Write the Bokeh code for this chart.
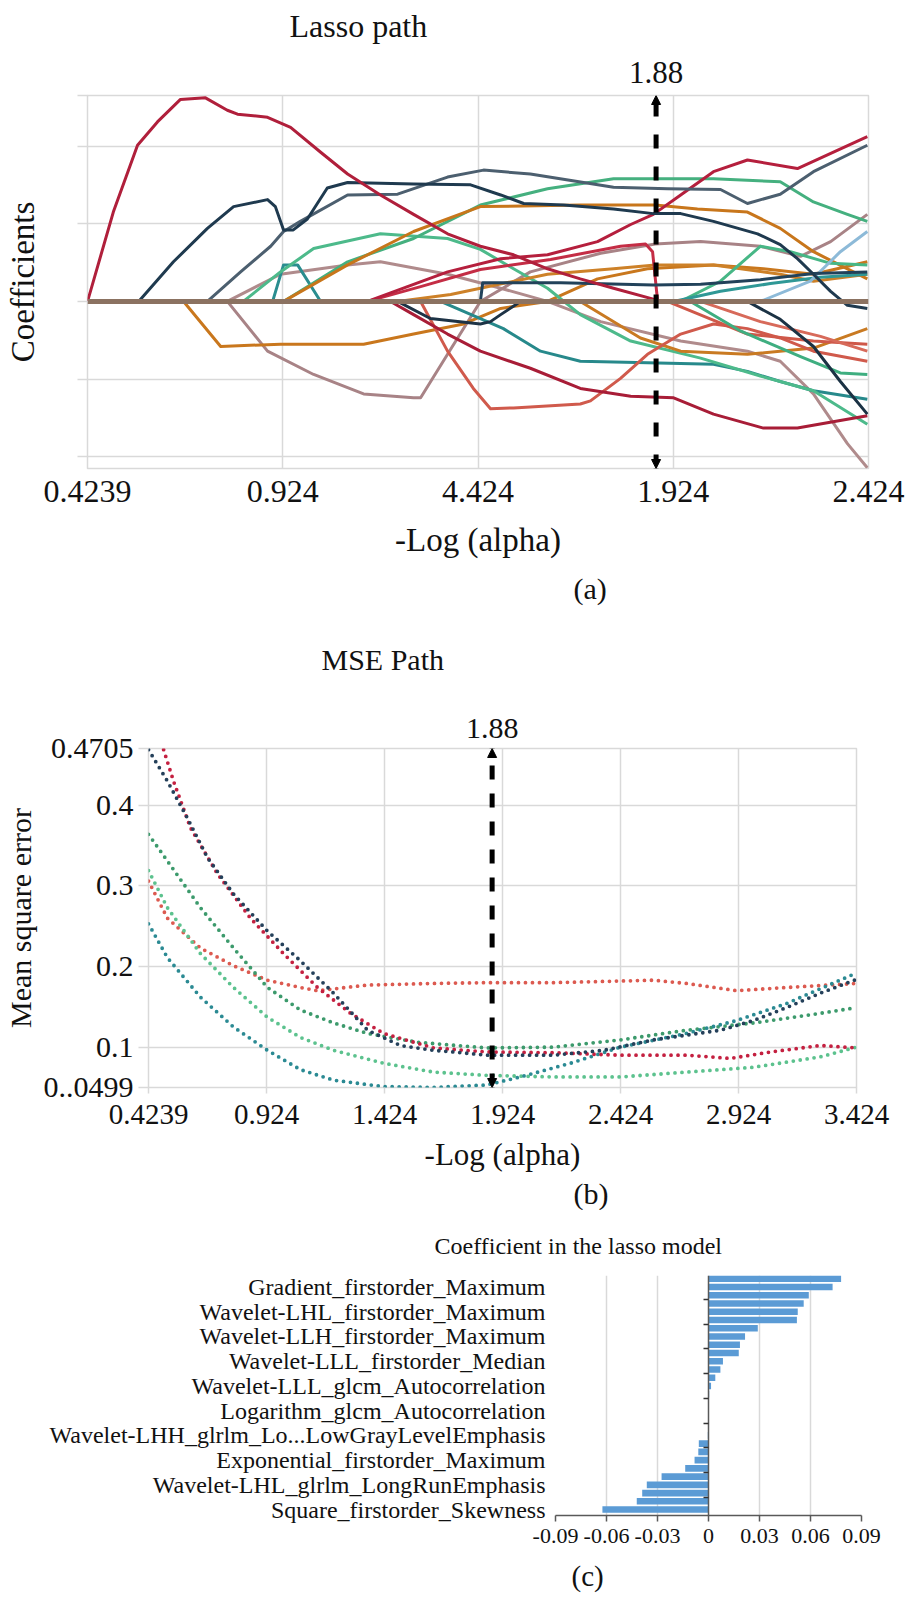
from bokeh.plotting import figure
from bokeh.layouts import column
from bokeh.models import Range1d, FixedTicker, LinearAxis, Arrow, NormalHead, Title
from bokeh.embed import file_html
from bokeh.resources import INLINE

# ======================= DATA =======================
# ---- (a) Lasso path ----
lasso_ticks = [0.4239, 0.924, 1.424, 1.924, 2.424]
lasso_tick_labels = ["0.4239", "0.924", "4.424", "1.924", "2.424"]
lasso_y_ticks = [-0.2, -0.1, 0.0, 0.1, 0.2, 0.265]
alpha_best = 1.88

crimson1_x = [0.424, 0.490, 0.552, 0.603, 0.662, 0.726, 0.782, 0.808, 0.885, 0.944, 1.021, 1.090, 1.174, 1.259, 1.346, 1.430, 1.515, 1.602, 1.686, 1.771, 1.873, 1.891]
crimson1_y = [0.0, 0.115, 0.201, 0.231, 0.260, 0.262, 0.246, 0.241, 0.237, 0.224, 0.192, 0.164, 0.137, 0.112, 0.087, 0.071, 0.060, 0.042, 0.029, 0.017, 0.003, 0.0]
navy1_x = [0.555, 0.644, 0.731, 0.798, 0.885, 0.905, 0.926, 0.951, 0.987, 1.038, 1.090, 1.259, 1.405, 1.482, 1.541, 1.643, 1.771, 1.873, 1.943, 2.027, 2.140, 2.198, 2.242, 2.283, 2.327, 2.370, 2.421]
navy1_y = [0.0, 0.051, 0.094, 0.122, 0.131, 0.122, 0.092, 0.092, 0.106, 0.146, 0.153, 0.151, 0.150, 0.137, 0.126, 0.124, 0.119, 0.113, 0.113, 0.103, 0.087, 0.073, 0.055, 0.035, 0.013, -0.005, -0.009]
slate_x = [0.731, 0.816, 0.893, 0.926, 0.969, 1.090, 1.218, 1.346, 1.438, 1.558, 1.771, 1.909, 2.045, 2.114, 2.198, 2.283, 2.421]
slate_y = [0.0, 0.038, 0.071, 0.090, 0.103, 0.137, 0.138, 0.160, 0.169, 0.164, 0.147, 0.145, 0.144, 0.126, 0.138, 0.167, 0.201]
mint1_x = [0.823, 0.918, 1.003, 1.174, 1.346, 1.430, 1.515, 1.602, 1.686, 1.815, 1.994, 2.147, 2.283, 2.421]
mint1_y = [0.0, 0.038, 0.068, 0.087, 0.081, 0.067, 0.042, 0.017, -0.017, -0.051, -0.073, -0.096, -0.115, -0.158]
teal1_x = [0.898, 0.926, 0.962, 1.021]
teal1_y = [0.0, 0.047, 0.047, 0.0]
teal2_x = [1.328, 1.430, 1.489, 1.584, 1.686, 1.858, 2.027, 2.114, 2.198, 2.283, 2.421]
teal2_y = [0.0, -0.022, -0.035, -0.064, -0.077, -0.079, -0.081, -0.090, -0.103, -0.115, -0.126]
green2_x = [0.926, 1.090, 1.259, 1.430, 1.602, 1.771, 2.027, 2.198, 2.283, 2.370, 2.421]
green2_y = [0.0, 0.051, 0.081, 0.124, 0.145, 0.158, 0.158, 0.154, 0.128, 0.112, 0.103]
orange1_x = [0.926, 1.090, 1.259, 1.430, 1.686, 1.878, 1.986, 2.114, 2.198, 2.283, 2.370, 2.421]
orange1_y = [0.0, 0.047, 0.090, 0.122, 0.124, 0.124, 0.119, 0.115, 0.094, 0.064, 0.042, 0.029]
orange2_x = [0.670, 0.765, 0.918, 1.131, 1.259, 1.387, 1.482, 1.602, 1.730, 1.858, 2.027, 2.155, 2.283, 2.421]
orange2_y = [0.0, -0.058, -0.055, -0.055, -0.042, -0.029, -0.009, 0.0, 0.029, 0.042, 0.047, 0.042, 0.035, 0.051]
mauve1_x = [0.782, 0.885, 1.003, 1.131, 1.259, 1.277, 1.346, 1.430, 1.558, 1.738, 1.878, 1.994, 2.147, 2.250, 2.327, 2.421]
mauve1_y = [0.0, -0.064, -0.094, -0.119, -0.124, -0.124, -0.068, 0.0, 0.038, 0.062, 0.074, 0.077, 0.071, 0.058, 0.077, 0.112]
mauve2_x = [0.782, 0.918, 1.090, 1.174, 1.346, 1.482, 1.602, 1.738, 1.943, 2.114, 2.198, 2.283, 2.370, 2.421]
mauve2_y = [0.0, 0.035, 0.047, 0.051, 0.035, 0.017, 0.0, -0.026, -0.051, -0.064, -0.077, -0.119, -0.183, -0.214]
salmon1_x = [1.277, 1.346, 1.412, 1.456, 1.515, 1.686, 1.712, 1.789, 1.858, 1.943, 2.027, 2.114, 2.198, 2.283, 2.421]
salmon1_y = [0.0, -0.064, -0.112, -0.138, -0.137, -0.132, -0.128, -0.099, -0.068, -0.042, -0.029, -0.035, -0.047, -0.064, -0.077]
crimson2_x = [1.141, 1.259, 1.346, 1.482, 1.602, 1.730, 1.815, 1.873, 1.943, 2.027, 2.114, 2.242, 2.421]
crimson2_y = [0.0, 0.022, 0.038, 0.055, 0.060, 0.077, 0.099, 0.112, 0.137, 0.167, 0.182, 0.171, 0.212]
crimson3_x = [1.200, 1.259, 1.346, 1.430, 1.558, 1.686, 1.815, 1.925, 2.027, 2.155, 2.242, 2.421]
crimson3_y = [0.0, -0.017, -0.042, -0.064, -0.086, -0.112, -0.122, -0.124, -0.145, -0.163, -0.163, -0.147]
red4_x = [1.141, 1.277, 1.430, 1.610, 1.789, 1.853, 1.871, 1.884]
red4_y = [0.0, 0.019, 0.041, 0.054, 0.071, 0.074, 0.064, 0.0]
navy2_x = [1.430, 1.436, 1.636, 1.873, 1.994, 2.147, 2.283, 2.421]
navy2_y = [0.0, 0.024, 0.024, 0.021, 0.022, 0.028, 0.036, 0.038]
navy3_x = [1.218, 1.302, 1.430, 1.456, 1.482, 1.533]
navy3_y = [0.0, -0.022, -0.029, -0.026, -0.017, 0.0]
navy4_x = [2.114, 2.198, 2.283, 2.352, 2.421]
navy4_y = [0.0, -0.023, -0.058, -0.103, -0.145]
orange3_x = [1.218, 1.354, 1.430, 1.602, 1.771, 1.878, 2.027, 2.198, 2.283, 2.421]
orange3_y = [0.0, 0.009, 0.017, 0.035, 0.042, 0.047, 0.047, 0.035, 0.026, 0.035]
orange4_x = [1.686, 1.840, 1.943, 2.114, 2.283, 2.421]
orange4_y = [0.0, -0.047, -0.064, -0.068, -0.060, -0.035]
salmon2_x = [1.909, 2.114, 2.283, 2.421]
salmon2_y = [0.0, -0.042, -0.051, -0.055]
mint3_x = [1.943, 2.045, 2.147, 2.224, 2.327, 2.421]
mint3_y = [0.0, 0.026, 0.071, 0.064, 0.049, 0.047]
teal3_x = [1.925, 2.045, 2.173, 2.301, 2.421]
teal3_y = [0.0, 0.013, 0.023, 0.031, 0.035]
green4_x = [1.968, 2.096, 2.250, 2.352, 2.421]
green4_y = [0.0, -0.038, -0.071, -0.092, -0.094]
lightblue_x = [2.147, 2.275, 2.352, 2.421]
lightblue_y = [0.0, 0.026, 0.064, 0.090]
salmon3_x = [1.994, 2.147, 2.301, 2.421]
salmon3_y = [0.0, -0.026, -0.045, -0.064]
zero_x = [0.4239, 2.424]
zero_y = [0.0, 0.0]

# ---- (b) MSE path ----
mse_x_ticks = [0.4239, 0.924, 1.424, 1.924, 2.424, 2.924, 3.424]
mse_x_labels = ["0.4239", "0.924", "1.424", "1.924", "2.424", "2.924", "3.424"]
mse_y_ticks = [0.0499, 0.1, 0.2, 0.3, 0.4, 0.4705]
mse_y_labels = ["0..0499", "0.1", "0.2", "0.3", "0.4", "0.4705"]

fold1_x = [0.424, 0.504, 0.589, 0.674, 0.784, 0.928, 1.068, 1.208, 1.352, 1.492, 1.632, 1.716, 1.856, 2.140, 2.352, 2.564, 2.848, 2.988, 3.127, 3.271, 3.424]
fold1_y = [0.469, 0.430, 0.384, 0.335, 0.290, 0.244, 0.207, 0.167, 0.121, 0.102, 0.096, 0.094, 0.090, 0.090, 0.096, 0.109, 0.121, 0.133, 0.149, 0.167, 0.184]
fold2_x = [0.488, 0.530, 0.602, 0.716, 0.856, 0.996, 1.140, 1.280, 1.420, 1.632, 1.856, 2.140, 2.424, 2.704, 2.890, 3.060, 3.272, 3.424]
fold2_y = [0.469, 0.430, 0.372, 0.315, 0.260, 0.216, 0.174, 0.142, 0.117, 0.099, 0.094, 0.093, 0.090, 0.090, 0.086, 0.094, 0.102, 0.099]
fold3_x = [0.424, 0.504, 0.644, 0.784, 0.928, 1.068, 1.140, 1.352, 1.632, 1.856, 2.140, 2.564, 2.704, 2.916, 3.127, 3.424]
fold3_y = [0.306, 0.260, 0.223, 0.201, 0.183, 0.174, 0.170, 0.177, 0.179, 0.180, 0.180, 0.183, 0.179, 0.170, 0.174, 0.179]
fold4_x = [0.424, 0.504, 0.644, 0.784, 0.928, 1.068, 1.208, 1.352, 1.564, 1.856, 2.140, 2.424, 2.704, 2.988, 3.272, 3.424]
fold4_y = [0.364, 0.331, 0.273, 0.223, 0.174, 0.146, 0.130, 0.117, 0.106, 0.099, 0.100, 0.109, 0.121, 0.130, 0.142, 0.149]
fold5_x = [0.424, 0.504, 0.644, 0.784, 0.928, 1.068, 1.208, 1.420, 1.632, 1.856, 2.140, 2.424, 2.704, 2.988, 3.272, 3.424]
fold5_y = [0.319, 0.273, 0.216, 0.174, 0.137, 0.112, 0.096, 0.080, 0.069, 0.065, 0.063, 0.063, 0.069, 0.075, 0.088, 0.100]
fold6_x = [0.424, 0.504, 0.644, 0.784, 0.928, 1.068, 1.208, 1.420, 1.632, 1.856, 2.000, 2.212, 2.424, 2.704, 2.916, 3.127, 3.424]
fold6_y = [0.253, 0.211, 0.162, 0.125, 0.096, 0.072, 0.059, 0.051, 0.050, 0.053, 0.063, 0.080, 0.100, 0.117, 0.133, 0.154, 0.192]

# ---- (c) Coefficients in the lasso model (top bar first) ----
coef_values = [0.078, 0.073, 0.059, 0.056, 0.0525, 0.052, 0.029, 0.0215, 0.0185, 0.0178,
               0.0085, 0.007, 0.004, 0.0015, 0.0004, 0.0002, 0.0001, 0.0, -0.0002, -0.0004,
               -0.0057, -0.006, -0.0082, -0.0137, -0.0276, -0.0363, -0.039, -0.0422, -0.0624]
feature_names = ["Gradient_firstorder_Maximum", "Wavelet-LHL_firstorder_Maximum",
                 "Wavelet-LLH_firstorder_Maximum", "Wavelet-LLL_firstorder_Median",
                 "Wavelet-LLL_glcm_Autocorrelation", "Logarithm_glcm_Autocorrelation",
                 "Wavelet-LHH_glrlm_Lo...LowGrayLevelEmphasis", "Exponential_firstorder_Maximum",
                 "Wavelet-LHL_glrlm_LongRunEmphasis", "Square_firstorder_Skewness"]
feature_bar_index = [1, 4, 7, 10, 13, 16, 19, 22, 25, 28]
coef_ticks = [-0.09, -0.06, -0.03, 0.0, 0.03, 0.06, 0.09]
coef_tick_labels = ["-0.09", "-0.06", "-0.03", "0", "0.03", "0.06", "0.09"]

# ======================= STYLE =======================
FONT = "Liberation Serif"
GRID = "#d9d9d9"
AXIS_DARK = "#595959"
TXT = "#111111"
PAGE_W = 906


def style_axes(p):
    p.background_fill_color = "white"
    p.border_fill_color = "white"
    for ax in p.axis:
        ax.major_label_text_font = FONT
        ax.major_label_text_color = TXT
        ax.axis_label_text_font = FONT
        ax.axis_label_text_font_style = "normal"
        ax.axis_label_text_color = TXT
        ax.minor_tick_line_color = None


def make_title(text, size, standoff, offset, valign="bottom"):
    return Title(text=text, align="left", offset=offset, standoff=standoff,
                 vertical_align=valign, text_font=FONT, text_font_style="normal",
                 text_font_size=f"{size}px", text_color=TXT)


def opt_marker(p, ymin, ymax, dash):
    p.add_layout(Arrow(
        start=NormalHead(size=9, fill_color="black", line_color="black"),
        end=NormalHead(size=9, fill_color="black", line_color="black"),
        x_start=alpha_best, y_start=ymin, x_end=alpha_best, y_end=ymax,
        line_width=5, line_dash=dash, line_color="black"))


def center_offset(xval, x0, x1, frame_w, text_w):
    return (xval - x0) / (x1 - x0) * frame_w - text_w / 2


# ----------------------- (a) -----------------------
ya0, ya1 = -0.215, 0.265
A_L, A_T, A_FW, A_FH, A_H = 87, 95, 781, 373, 560
pa = figure(width=PAGE_W, height=A_H, output_backend="svg", toolbar_location=None,
            x_range=Range1d(lasso_ticks[0], lasso_ticks[-1]), y_range=Range1d(ya0, ya1),
            min_border_left=A_L, min_border_right=PAGE_W - A_L - A_FW,
            min_border_top=A_T, min_border_bottom=A_H - A_T - A_FH, title=None)
style_axes(pa)
pa.outline_line_color = GRID
pa.outline_line_width = 1.5

xa = pa.xaxis[0]
xa.ticker = FixedTicker(ticks=lasso_ticks)
xa.major_label_overrides = dict(zip(lasso_ticks, lasso_tick_labels))
xa.major_label_text_font_size = "32px"
xa.major_tick_out = 0
xa.major_tick_in = 0
xa.axis_line_color = None
xa.major_label_standoff = 12
xa.axis_label = "-Log (alpha)"
xa.axis_label_text_font_size = "33px"
xa.axis_label_standoff = 17

yax = pa.yaxis[0]
yax.ticker = FixedTicker(ticks=lasso_y_ticks)
yax.major_label_overrides = {t: "" for t in lasso_y_ticks}
yax.major_tick_out = 10
yax.major_tick_in = 0
yax.major_tick_line_color = GRID
yax.major_tick_line_width = 1.5
yax.axis_line_color = None
yax.axis_label = "Coefficients"
yax.axis_label_text_font_size = "33px"
yax.axis_label_standoff = 37

pa.xgrid.ticker = FixedTicker(ticks=lasso_ticks)
pa.ygrid.ticker = FixedTicker(ticks=lasso_y_ticks)
pa.xgrid.grid_line_color = GRID
pa.ygrid.grid_line_color = GRID
pa.xgrid.grid_line_width = 1.5
pa.ygrid.grid_line_width = 1.5

lasso_series = [
    (mauve2_x, mauve2_y, "#b08b8c"),
    (mauve1_x, mauve1_y, "#a88386"),
    (orange2_x, orange2_y, "#c9771d"),
    (teal1_x, teal1_y, "#2a8d8f"),
    (teal2_x, teal2_y, "#27898b"),
    (mint1_x, mint1_y, "#4dba8b"),
    (green2_x, green2_y, "#45b07f"),
    (orange1_x, orange1_y, "#c8761b"),
    (orange3_x, orange3_y, "#cd8128"),
    (orange4_x, orange4_y, "#c97a22"),
    (salmon1_x, salmon1_y, "#d05a4c"),
    (salmon2_x, salmon2_y, "#cf5849"),
    (salmon3_x, salmon3_y, "#d76a5a"),
    (mint3_x, mint3_y, "#47b786"),
    (teal3_x, teal3_y, "#2f9896"),
    (green4_x, green4_y, "#3fae80"),
    (lightblue_x, lightblue_y, "#8dbad8"),
    (red4_x, red4_y, "#c42d45"),
    (crimson3_x, crimson3_y, "#a81d37"),
    (crimson2_x, crimson2_y, "#b51f3d"),
    (navy2_x, navy2_y, "#22425a"),
    (navy3_x, navy3_y, "#1d3346"),
    (navy4_x, navy4_y, "#1b3244"),
    (slate_x, slate_y, "#4c5f6f"),
    (navy1_x, navy1_y, "#1f3a4f"),
    (crimson1_x, crimson1_y, "#b01f3b"),
]
for sx, sy, c in lasso_series:
    pa.line(sx, sy, line_color=c, line_width=3, line_join="round")
pa.line(zero_x, zero_y, line_color="#8b7261", line_width=5)
opt_marker(pa, ya0, ya1, "14 18")

best_txt = f"{alpha_best:.2f}"
pa.add_layout(make_title(best_txt, 31, 26,
                         center_offset(alpha_best, lasso_ticks[0], lasso_ticks[-1], A_FW, 1.75 * 31)), "above")
pa.add_layout(make_title("Lasso path", 32, 6, 202), "above")

# ----------------------- (b) -----------------------
yb0, yb1 = mse_y_ticks[0], mse_y_ticks[-1]
B_L, B_T, B_FW, B_FH, B_H = 148, 188, 708, 339, 650
pb = figure(width=PAGE_W, height=B_H, output_backend="svg", toolbar_location=None,
            x_range=Range1d(mse_x_ticks[0], mse_x_ticks[-1]), y_range=Range1d(yb0, yb1),
            min_border_left=B_L, min_border_right=PAGE_W - B_L - B_FW,
            min_border_top=B_T, min_border_bottom=B_H - B_T - B_FH, title=None)
style_axes(pb)
pb.outline_line_color = GRID
pb.outline_line_width = 1.5

xb = pb.xaxis[0]
xb.ticker = FixedTicker(ticks=mse_x_ticks)
xb.major_label_overrides = dict(zip(mse_x_ticks, mse_x_labels))
xb.major_label_text_font_size = "29px"
xb.major_tick_out = 6
xb.major_tick_in = 0
xb.major_tick_line_color = GRID
xb.major_tick_line_width = 1.5
xb.axis_line_color = None
xb.major_label_standoff = 11
xb.axis_label = "-Log (alpha)"
xb.axis_label_text_font_size = "31px"
xb.axis_label_standoff = 10

yb = pb.yaxis[0]
yb.ticker = FixedTicker(ticks=mse_y_ticks)
yb.major_label_overrides = dict(zip(mse_y_ticks, mse_y_labels))
yb.major_label_text_font_size = "30px"
yb.major_tick_out = 10
yb.major_tick_in = 0
yb.major_tick_line_color = GRID
yb.major_tick_line_width = 1.5
yb.axis_line_color = None
yb.major_label_standoff = 5
yb.axis_label = "Mean square error"
yb.axis_label_text_font_size = "30px"
yb.axis_label_standoff = 4

pb.xgrid.ticker = FixedTicker(ticks=mse_x_ticks)
pb.ygrid.ticker = FixedTicker(ticks=mse_y_ticks)
pb.xgrid.grid_line_color = GRID
pb.ygrid.grid_line_color = GRID
pb.xgrid.grid_line_width = 1.5
pb.ygrid.grid_line_width = 1.5

mse_series = [
    (fold3_x, fold3_y, "#dc5a50"),
    (fold5_x, fold5_y, "#5cc28e"),
    (fold4_x, fold4_y, "#3c9a6c"),
    (fold6_x, fold6_y, "#2b8a93"),
    (fold2_x, fold2_y, "#c42040"),
    (fold1_x, fold1_y, "#24405a"),
]
for sx, sy, c in mse_series:
    pb.line(sx, sy, line_color=c, line_width=3.8, line_dash="0 7", line_cap="round")
opt_marker(pb, yb0, yb1, "14 14")

# titles stacked above frame (b): "1.88", "MSE Path", then the caption "(a)" of the panel above
pb.add_layout(make_title(best_txt, 30, 22,
                         center_offset(alpha_best, mse_x_ticks[0], mse_x_ticks[-1], B_FW, 1.75 * 30)), "above")
pb.add_layout(make_title("MSE Path", 30, 55, 173, valign="top"), "above")
pb.add_layout(make_title("(a)", 30, 17, 425, valign="top"), "above")
pb.add_layout(make_title("(b)", 30, 0, 425, valign="bottom"), "below")

# ----------------------- (c) -----------------------
n_bars = len(coef_values)
bar_pos = [n_bars - 1 - i for i in range(n_bars)]
label_pos = [n_bars - 1 - i for i in feature_bar_index]
group_marks = [p + 1.5 for p in label_pos if p + 1.5 < n_bars - 1]

C_L, C_T, C_FW, C_FH, C_H = 555, 65, 306, 243, 393
pc = figure(width=PAGE_W, height=C_H, output_backend="svg", toolbar_location=None,
            x_range=Range1d(coef_ticks[0], coef_ticks[-1]), y_range=Range1d(-0.72, n_bars - 0.6),
            min_border_left=C_L, min_border_right=PAGE_W - C_L - C_FW,
            min_border_top=C_T, min_border_bottom=C_H - C_T - C_FH, title=None)
style_axes(pc)
pc.outline_line_color = None

xc = pc.xaxis[0]
xc.ticker = FixedTicker(ticks=coef_ticks)
xc.major_label_overrides = dict(zip(coef_ticks, coef_tick_labels))
xc.major_label_text_font_size = "22px"
xc.axis_line_color = AXIS_DARK
xc.axis_line_width = 1.5
xc.major_tick_out = 6
xc.major_tick_in = 0
xc.major_tick_line_color = AXIS_DARK
xc.major_tick_line_width = 1.5
xc.major_label_standoff = 7

yc = pc.yaxis[0]
yc.ticker = FixedTicker(ticks=label_pos)
yc.major_label_overrides = dict(zip(label_pos, feature_names))
yc.major_label_text_font_size = "24px"
yc.major_tick_line_color = None
yc.major_tick_out = 0
yc.axis_line_color = None
yc.major_label_standoff = 10

zero_axis = LinearAxis(ticker=FixedTicker(ticks=group_marks), fixed_location=0,
                       major_label_overrides={t: "" for t in group_marks},
                       axis_line_color=AXIS_DARK, axis_line_width=1.5,
                       major_tick_out=5, major_tick_in=0, major_tick_line_color="#333333",
                       major_tick_line_width=1.5, minor_tick_line_color=None)
pc.add_layout(zero_axis, "left")

pc.xgrid.ticker = FixedTicker(ticks=[t for t in coef_ticks if t != 0])
pc.xgrid.grid_line_color = GRID
pc.xgrid.grid_line_width = 1.5
pc.ygrid.grid_line_color = None

pc.hbar(y=bar_pos, right=coef_values, left=0, height=0.8,
        fill_color="#5b9bd5", line_color=None)

pc.add_layout(make_title("Coefficient in the lasso model", 24, 34, -121), "above")
pc.add_layout(make_title("(c)", 29, 24, 16, valign="bottom"), "below")

plots = [pa, pb, pc]
try:
    for p in plots:
        p.frame_align = False
    root = column(*plots)
except Exception:
    root = plots

open("out.html", "w").write(file_html(root, INLINE))
